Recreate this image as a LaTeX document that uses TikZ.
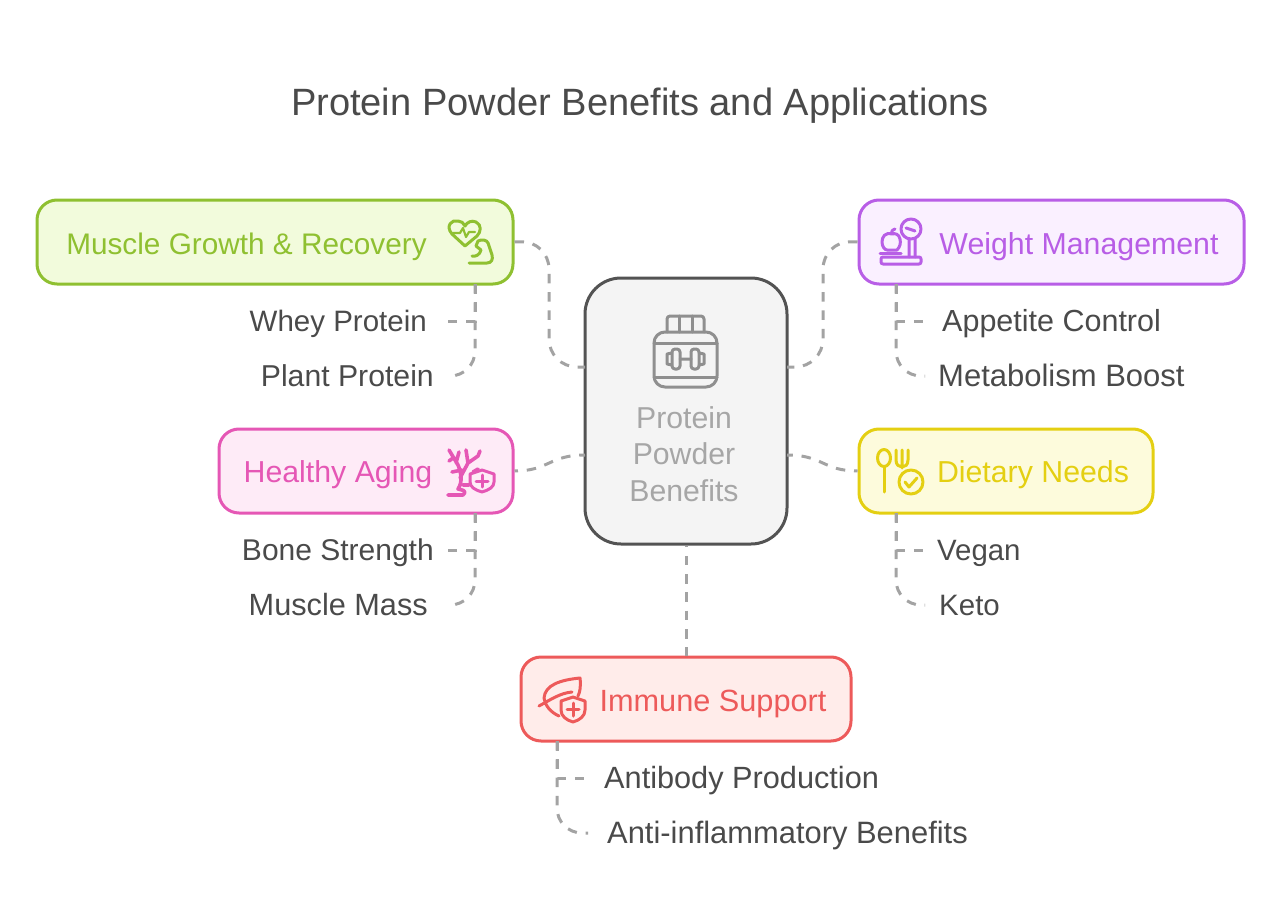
\documentclass[tikz,border=0pt]{standalone}
\usepackage{fontspec}
\setmainfont{Liberation Sans}
\definecolor{ink}{HTML}{4A4A4A}
\definecolor{wire}{HTML}{A3A3A3}
\definecolor{hubtext}{HTML}{A6A6A6}
\definecolor{hubicon}{HTML}{8F8F8F}
\definecolor{greenl}{HTML}{8FC031}
\definecolor{greenf}{HTML}{F2FBDC}
\definecolor{purpl}{HTML}{B85EE6}
\definecolor{purpf}{HTML}{FAF0FF}
\definecolor{pinkl}{HTML}{E557B5}
\definecolor{pinkf}{HTML}{FEEBF7}
\definecolor{yelll}{HTML}{E4CF12}
\definecolor{yellf}{HTML}{FDFBDC}
\definecolor{redl}{HTML}{ED5A5A}
\definecolor{redf}{HTML}{FFECEA}
\begin{document}
\begin{tikzpicture}[
    x = 1pt, y = -1pt,
    box/.style = {draw, line width = 3pt, rounded corners = 20pt, minimum height = 84pt},
    head/.style = {font = \fontsize{#1}{34}\selectfont, inner sep = 0pt, anchor = base},
    item/.style = {font = \fontsize{#1}{34}\selectfont, text = ink, inner ysep = 0pt,
                   text height = 24pt, text depth = 3pt},
    link/.style = {draw = wire, line width = 3pt, dash pattern = on 9.5pt off 8.8pt},
    icon/.style = {line width = 3pt, line cap = round, line join = round}]

\useasboundingbox (0,0) rectangle (1280,923);

\node[font = \fontsize{38.05}{42}\selectfont, text = ink, anchor = base] (title) at (640,116) {Protein Powder Benefits and Applications};

\node[box, draw = greenl, fill = greenf, minimum width = 476pt] (muscle) at (275,242) {};
\node[box, draw = purpl, fill = purpf, minimum width = 385pt] (weight) at (1051.5,242) {};
\node[box, draw = pinkl, fill = pinkf, minimum width = 294pt] (aging) at (366,471) {};
\node[box, draw = yelll, fill = yellf, minimum width = 294pt] (dietary) at (1006,471) {};
\node[box, draw = redl, fill = redf, minimum width = 330pt] (immune) at (686,699) {};
\node[draw = ink!95, fill = black!4.5, line width = 3pt, rounded corners = 36pt,
      minimum width = 202pt, minimum height = 266pt] (hub) at (686,411) {};

\node[head = 29.75, text = greenl] (musclet) at (246.5,254.5) {Muscle Growth \& Recovery};
\node[head = 30.3, text = purpl] (weightt) at (1079,254.5) {Weight Management};
\node[head = 30.3, text = pinkl] (agingt) at (338,482.5) {Healthy Aging};
\node[head = 30.3, text = yelll] (dietaryt) at (1033,482.5) {Dietary Needs};
\node[head = 30.7, text = redl] (immunet) at (713,711.5) {Immune Support};
\node[font = \fontsize{30.2}{36.5}\selectfont, text = hubtext, align = center] (hubt) at (684,454) {Protein\\Powder\\Benefits};

\node[item = 29.5, anchor = east, inner xsep = 21pt] (whey) at (448,321) {Whey Protein};
\node[item = 30.2, anchor = east, inner xsep = 13pt] (plant) at (447,376) {Plant Protein};
\node[item = 30, anchor = east, inner xsep = 13pt] (bone) at (447,550) {Bone Strength};
\node[item = 30.7, anchor = east, inner xsep = 19pt] (mass) at (447,605) {Muscle Mass};
\node[item = 30.5, anchor = west, inner xsep = 17pt] (appetite) at (925,321) {Appetite Control};
\node[item = 31, anchor = west, inner xsep = 13pt] (metab) at (925,376) {Metabolism Boost};
\node[item = 29.4, anchor = west, inner xsep = 14pt] (vegan) at (923,550) {Vegan};
\node[item = 29.5, anchor = west, inner xsep = 14pt] (keto) at (925,605) {Keto};
\node[item = 30.7, anchor = west, inner xsep = 19pt] (antibody) at (585,778) {Antibody Production};
\node[item = 30.9, anchor = west, inner xsep = 19pt] (antiinf) at (588,833) {Anti-inflammatory Benefits};

\coordinate (musclelow) at (475,284);
\coordinate (agelow) at (475,513);
\coordinate (weightlow) at (896,284);
\coordinate (dietlow) at (896,513);
\coordinate (immunelow) at (557,741);
\coordinate (hubnw) at (585,367);
\coordinate (hubne) at (787,367);
\coordinate (hubw) at (585,455);
\coordinate (hube) at (787,455);

\draw[link, rounded corners = 28pt] (muscle.east) -- (549,241) -- (549,367) -- (hubnw);
\draw[link, rounded corners = 28pt] (weight.west) -- (823,241) -- (823,367) -- (hubne);
\draw[link, dash phase = 6pt] (aging.east) .. controls (549,471) and (549,455) .. (hubw);
\draw[link, dash phase = 6pt] (dietary.west) .. controls (823,471) and (823,455) .. (hube);
\draw[link, dash phase = 8pt] (hub.south) to (immune.north);

\draw[link] (musclelow) |- (whey.east);
\draw[link, rounded corners = 25pt] (musclelow) |- (plant.east);
\draw[link] (agelow) |- (bone.east);
\draw[link, rounded corners = 25pt] (agelow) |- (mass.east);
\draw[link] (weightlow) |- (appetite.west);
\draw[link, rounded corners = 25pt] (weightlow) |- (metab.west);
\draw[link] (dietlow) |- (vegan.west);
\draw[link, rounded corners = 25pt] (dietlow) |- (keto.west);
\draw[link] (immunelow) |- (antibody.west);
\draw[link, rounded corners = 25pt] (immunelow) |- (antiinf.west);

\draw[icon, draw = hubicon, rounded corners = 3pt] (667,332) -- (667,316) -- (704,316) -- (704,332);
\draw[icon, draw = hubicon] (679,316) -- (679,332) (692,316) -- (692,332);
\draw[icon, draw = hubicon, rounded corners = 11pt] (654,332) rectangle (717,387);
\draw[icon, draw = hubicon] (654,343) -- (717,343) (654,377) -- (717,377);
\draw[icon, draw = hubicon, rounded corners = 3pt] (672,349) rectangle (680,369) (691,349) rectangle (699,369);
\draw[icon, draw = hubicon] (680,359) -- (691,359) (672,353) -- (667,354) -- (667,364) -- (672,365) (699,353) -- (704,354) -- (704,364) -- (699,365);

\draw[icon, draw = greenl] (465,246) -- (452,234) .. controls (445,226) and (452,219) .. (458,221) .. controls (461,221) and (464,223) .. (465,226) .. controls (467,222) and (472,220) .. (476,222) .. controls (482,225) and (481,232) .. (477,236) -- (465,246);
\draw[icon, draw = greenl, line width = 2.2pt] (453,233) -- (460,233) -- (463,228) -- (466,237) -- (469,232) -- (475,232);
\draw[icon, draw = greenl] (469,263) -- (487,263) .. controls (492,263) and (493,259) .. (492,255) -- (488,243) .. controls (487,240) and (482,239) .. (478,241) -- (476,246) -- (481,250) .. controls (480,255) and (475,257) .. (472,256);

\draw[icon, draw = purpl] (911,229) circle (10pt);
\draw[icon, draw = purpl] (906,228) -- (915,231) (909,239) -- (909,257) (915,239) -- (915,257);
\draw[icon, draw = purpl, rounded corners = 2pt] (881,257) rectangle (921,264);
\draw[icon, draw = purpl] (880,253) -- (901,253);
\draw[icon, draw = purpl] (892,234) .. controls (885,232) and (882,237) .. (882,242) .. controls (882,247) and (885,250) .. (887,250) -- (897,250) .. controls (900,247) and (901,243) .. (900,239) .. controls (899,234) and (895,233) .. (892,234) .. controls (891,231) and (893,229) .. (895,229);

\draw[icon, draw = pinkl, line width = 3.6pt] (463,485) -- (469,485) (448,495) -- (463,495) .. controls (468,490) and (461,490) .. (458,489) .. controls (463,482) and (461,472) .. (458,465) -- (449,450)
 (456,463) -- (459,452) (453,458) -- (449,461) (460,478) -- (468,463) -- (466,450) (468,463) -- (478,456) -- (480,451) (462,470) -- (452,472) (473,472) -- (478,469);
\draw[icon, draw = pinkl] (482,470) -- (494,474) -- (494,482) .. controls (494,487) and (489,490) .. (482,492) .. controls (475,490) and (470,487) .. (470,482) -- (470,474) -- cycle;
\draw[icon, draw = pinkl] (482,475) -- (482,487) (476,481) -- (488,481);

\draw[icon, draw = yelll] (884,458) ellipse (6.5pt and 8.5pt);
\draw[icon, draw = yelll] (884,467) -- (884,492);
\draw[icon, draw = yelll] (896,450) -- (896,460) .. controls (896,465) and (899,467) .. (902,467) .. controls (905,467) and (908,465) .. (908,460) -- (908,450) (902,450) -- (902,468);
\draw[icon, draw = yelll] (911,482) circle (12pt);
\draw[icon, draw = yelll] (905,482) -- (909,487) -- (917,478);

\draw[icon, draw = redl] (539,706) .. controls (550,700) and (560,693) .. (572,692) (559,716) .. controls (550,712) and (545,705) .. (544,698) .. controls (545,685) and (560,680) .. (580,678) .. controls (581,686) and (580,692) .. (578,696);
\draw[icon, draw = redl] (573,697) -- (585,701) -- (585,710) .. controls (585,716) and (580,720) .. (573,722) .. controls (566,720) and (561,716) .. (561,710) -- (561,701) -- cycle;
\draw[icon, draw = redl] (573,703) -- (573,716) (567,709) -- (579,709);
\end{tikzpicture}
\end{document}
